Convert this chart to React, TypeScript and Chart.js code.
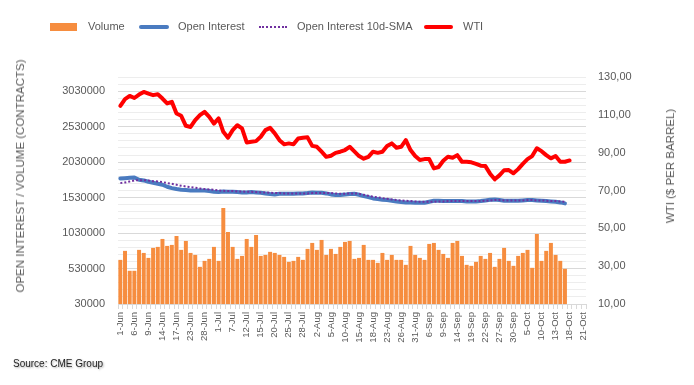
import React, { useEffect, useRef } from 'react';
import { Chart, registerables } from 'chart.js';

Chart.register(...registerables);

const FONT = "'Liberation Sans', Arial, sans-serif";
const TEXT = '#595959';

const dates = [
  '1-Jun', '2-Jun', '3-Jun', '6-Jun', '7-Jun', '8-Jun', '9-Jun', '10-Jun', '13-Jun', '14-Jun',
  '15-Jun', '16-Jun', '17-Jun', '21-Jun', '22-Jun', '23-Jun', '24-Jun', '27-Jun', '28-Jun', '29-Jun',
  '30-Jun', '1-Jul', '5-Jul', '6-Jul', '7-Jul', '8-Jul', '11-Jul', '12-Jul', '13-Jul', '14-Jul',
  '15-Jul', '18-Jul', '19-Jul', '20-Jul', '21-Jul', '22-Jul', '25-Jul', '26-Jul', '27-Jul', '28-Jul',
  '29-Jul', '1-Aug', '2-Aug', '3-Aug', '4-Aug', '5-Aug', '8-Aug', '9-Aug', '10-Aug', '11-Aug',
  '12-Aug', '15-Aug', '16-Aug', '17-Aug', '18-Aug', '19-Aug', '22-Aug', '23-Aug', '24-Aug', '25-Aug',
  '26-Aug', '29-Aug', '30-Aug', '31-Aug', '1-Sep', '2-Sep', '6-Sep', '7-Sep', '8-Sep', '9-Sep',
  '12-Sep', '13-Sep', '14-Sep', '15-Sep', '16-Sep', '19-Sep', '20-Sep', '21-Sep', '22-Sep', '23-Sep',
  '26-Sep', '27-Sep', '28-Sep', '29-Sep', '30-Sep', '3-Oct', '4-Oct', '5-Oct', '6-Oct', '7-Oct',
  '10-Oct', '11-Oct', '12-Oct', '13-Oct', '14-Oct', '17-Oct', '18-Oct', '19-Oct', '20-Oct', '21-Oct',
];

const volume = [
  652000, 779000, 498000, 498000, 793000, 750000, 680000, 821000, 835000, 947000,
  849000, 863000, 989000, 793000, 919000, 750000, 722000, 554000, 638000, 666000,
  835000, 638000, 1383000, 1045000, 835000, 666000, 708000, 947000, 835000, 1003000,
  708000, 722000, 765000, 750000, 722000, 694000, 624000, 638000, 694000, 652000,
  807000, 891000, 793000, 933000, 722000, 807000, 736000, 835000, 905000, 919000,
  666000, 680000, 863000, 652000, 652000, 610000, 750000, 652000, 722000, 652000,
  652000, 582000, 849000, 722000, 680000, 652000, 877000, 891000, 793000, 736000,
  680000, 891000, 919000, 708000, 582000, 568000, 624000, 708000, 666000, 750000,
  554000, 666000, 821000, 638000, 568000, 708000, 750000, 793000, 540000, 1017000,
  638000, 779000, 891000, 722000, 638000, 526000,
];

const openInterest = [
  1800000, 1804000, 1809000, 1814000, 1781000, 1772000, 1753000, 1739000, 1725000, 1711000,
  1683000, 1664000, 1650000, 1640000, 1636000, 1631000, 1631000, 1631000, 1631000, 1622000,
  1612000, 1608000, 1617000, 1612000, 1612000, 1608000, 1603000, 1603000, 1608000, 1603000,
  1598000, 1589000, 1580000, 1575000, 1584000, 1584000, 1584000, 1584000, 1589000, 1589000,
  1594000, 1603000, 1598000, 1598000, 1589000, 1575000, 1566000, 1566000, 1572000, 1582000,
  1584000, 1570000, 1551000, 1537000, 1518000, 1509000, 1500000, 1495000, 1486000, 1476000,
  1467000, 1462000, 1462000, 1458000, 1458000, 1458000, 1472000, 1486000, 1486000, 1481000,
  1481000, 1481000, 1481000, 1481000, 1476000, 1476000, 1476000, 1481000, 1490000, 1500000,
  1504000, 1495000, 1486000, 1486000, 1486000, 1486000, 1490000, 1495000, 1495000, 1490000,
  1486000, 1481000, 1476000, 1472000, 1462000, 1448000,
];

const openInterestSma = [
  1734000, 1743000, 1757000, 1772000, 1776000, 1776000, 1772000, 1762000, 1757000, 1748000,
  1734000, 1725000, 1711000, 1697000, 1687000, 1678000, 1669000, 1659000, 1650000, 1645000,
  1640000, 1631000, 1626000, 1622000, 1622000, 1617000, 1617000, 1612000, 1612000, 1608000,
  1603000, 1603000, 1598000, 1594000, 1594000, 1589000, 1589000, 1589000, 1589000, 1589000,
  1589000, 1594000, 1594000, 1594000, 1594000, 1594000, 1589000, 1584000, 1584000, 1589000,
  1589000, 1584000, 1570000, 1556000, 1542000, 1533000, 1523000, 1514000, 1504000, 1495000,
  1490000, 1486000, 1481000, 1476000, 1472000, 1472000, 1472000, 1472000, 1476000, 1476000,
  1481000, 1481000, 1481000, 1481000, 1481000, 1481000, 1481000, 1481000, 1486000, 1490000,
  1495000, 1495000, 1490000, 1490000, 1490000, 1490000, 1490000, 1495000, 1495000, 1490000,
  1490000, 1486000, 1481000, 1481000, 1476000, 1472000,
];

const wti = [
  114.7, 118.3, 120.0, 118.9, 120.7, 122.1, 121.2, 120.4, 120.9, 118.6,
  116.0, 116.9, 110.7, 109.5, 104.2, 103.6, 107.2, 109.8, 111.6, 108.9,
  105.4, 108.1, 101.0, 97.9, 101.9, 104.5, 102.8, 95.4, 95.8, 96.1,
  98.4, 101.9, 103.1, 100.2, 96.6, 94.4, 94.9, 94.4, 97.5, 97.9,
  98.1, 93.6, 93.1, 90.5, 87.8, 88.4, 89.9, 90.5, 91.4, 93.1,
  90.7, 88.2, 86.8, 87.8, 90.5, 89.9, 90.5, 93.5, 94.9, 92.6,
  93.1, 96.6, 91.4, 88.2, 86.1, 86.6, 86.6, 81.7, 82.4, 85.7,
  87.8, 87.3, 88.7, 85.2, 85.2, 84.9, 84.1, 83.1, 82.9, 78.9,
  75.9, 78.0, 80.7, 80.8, 79.1, 81.3, 84.1, 86.6, 88.2, 92.3,
  90.8, 88.7, 87.0, 88.2, 85.2, 85.2, 85.9,
];

const leftTickLabels = [30000, 530000, 1030000, 1530000, 2030000, 2530000, 3030000];
const rightTickLabels = [10, 30, 50, 70, 90, 110, 130];
const LEFT_MIN = 30000;
const LEFT_MAX = 3230000;
const LEFT_MINOR_STEP = 100000;

const COLORS = {
  volume: '#F68D3F',
  oi: '#4A7BC0',
  sma: '#7030A0',
  wti: '#FF0000',
};

export default function App() {
  const canvasRef = useRef<HTMLCanvasElement | null>(null);

  useEffect(() => {
    const canvas = canvasRef.current;
    if (!canvas) return;
    const chart = new Chart(canvas, {
      type: 'bar',
      data: {
        labels: dates,
        datasets: [
          {
            type: 'line',
            label: 'WTI',
            data: wti,
            yAxisID: 'y1',
            borderColor: COLORS.wti,
            backgroundColor: COLORS.wti,
            borderWidth: 4,
            pointRadius: 0,
            tension: 0,
            borderJoinStyle: 'round',
            borderCapStyle: 'round',
            order: 1,
          } as any,
          {
            type: 'line',
            label: 'Open Interest 10d-SMA',
            data: openInterestSma,
            yAxisID: 'y',
            borderColor: COLORS.sma,
            backgroundColor: COLORS.sma,
            borderWidth: 2,
            borderDash: [2, 2],
            pointRadius: 0,
            tension: 0,
            order: 2,
          } as any,
          {
            type: 'line',
            label: 'Open Interest',
            data: openInterest,
            yAxisID: 'y',
            borderColor: COLORS.oi,
            backgroundColor: COLORS.oi,
            borderWidth: 4,
            pointRadius: 0,
            tension: 0,
            borderJoinStyle: 'round',
            borderCapStyle: 'round',
            order: 3,
          } as any,
          {
            type: 'bar',
            label: 'Volume',
            data: volume,
            yAxisID: 'y',
            backgroundColor: COLORS.volume,
            barPercentage: 0.85,
            categoryPercentage: 1,
            order: 4,
          } as any,
        ],
      },
      options: {
        animation: false,
        responsive: false,
        maintainAspectRatio: false,
        layout: { padding: { top: 77, left: 0, right: 0, bottom: 0 } },
        plugins: { legend: { display: false }, tooltip: { enabled: false } },
        scales: {
          x: {
            offset: true,
            grid: {
              display: true,
              drawOnChartArea: false,
              drawTicks: true,
              tickLength: 5,
              color: '#D9D9D9',
              offset: true,
            },
            border: { display: true, color: '#D9D9D9' },
            ticks: {
              autoSkip: false,
              minRotation: 90,
              maxRotation: 90,
              padding: 3,
              color: TEXT,
              font: { family: FONT, size: 9.5 },
              callback: (_v: any, i: number) => (i % 3 === 0 ? dates[i] : ''),
            },
            afterFit: (s: any) => {
              s.height = 81;
            },
          },
          y: {
            position: 'left',
            min: LEFT_MIN,
            max: LEFT_MAX,
            afterBuildTicks: (s: any) => {
              const t: any[] = [];
              for (let v = LEFT_MIN; v <= LEFT_MAX; v += LEFT_MINOR_STEP) t.push({ value: v });
              s.ticks = t;
            },
            grid: {
              drawTicks: false,
              color: (ctx: any) =>
                ctx.tick && leftTickLabels.includes(ctx.tick.value) ? '#D9D9D9' : '#EDEDED',
            },
            border: { display: false },
            ticks: {
              autoSkip: false,
              padding: 13,
              color: TEXT,
              font: { family: FONT, size: 11 },
              callback: (v: any) => (leftTickLabels.includes(v) ? String(v) : ''),
            },
            afterFit: (s: any) => {
              s.width = 118;
            },
          },
          y1: {
            position: 'right',
            min: 10,
            max: 130,
            afterBuildTicks: (s: any) => {
              s.ticks = rightTickLabels.map((v) => ({ value: v }));
            },
            grid: { display: false, drawOnChartArea: false, drawTicks: false },
            border: { display: false },
            ticks: {
              autoSkip: false,
              padding: 12,
              color: TEXT,
              font: { family: FONT, size: 11 },
              callback: (v: any) => Number(v).toFixed(2).replace('.', ','),
            },
            afterFit: (s: any) => {
              s.width = 108;
            },
          },
        },
      } as any,
    });
    return () => chart.destroy();
  }, []);

  const textStyle: React.CSSProperties = {
    position: 'absolute',
    fontSize: 11,
    lineHeight: '14px',
    color: TEXT,
    whiteSpace: 'nowrap',
  };

  return (
    <div
      style={{
        position: 'absolute',
        left: 0,
        top: 0,
        width: 694,
        height: 385,
        background: '#fff',
        fontFamily: FONT,
        overflow: 'hidden',
      }}
    >
      <canvas
        ref={canvasRef}
        width={694}
        height={385}
        style={{ position: 'absolute', left: 0, top: 0, width: 694, height: 385 }}
      />
      {/* Legend */}
      <div style={{ position: 'absolute', left: 50, top: 23, width: 27, height: 8, background: COLORS.volume }} />
      <div style={{ ...textStyle, left: 88, top: 19 }}>Volume</div>
      <div style={{ position: 'absolute', left: 139, top: 25, width: 30, height: 4, borderRadius: 2, background: COLORS.oi }} />
      <div style={{ ...textStyle, left: 178, top: 19 }}>Open Interest</div>
      <div style={{ position: 'absolute', left: 259, top: 26, width: 28, height: 0, borderTop: `2px dotted ${COLORS.sma}` }} />
      <div style={{ ...textStyle, left: 297, top: 19 }}>Open Interest 10d-SMA</div>
      <div style={{ position: 'absolute', left: 424, top: 25, width: 29, height: 4, borderRadius: 2, background: COLORS.wti }} />
      <div style={{ ...textStyle, left: 463, top: 19 }}>WTI</div>
      {/* Axis titles */}
      <div
        style={{
          ...textStyle,
          fontSize: 11.5,
          left: 20,
          top: 176,
          transform: 'translate(-50%, -50%) rotate(-90deg)',
        }}
      >
        OPEN INTEREST / VOLUME (CONTRACTS)
      </div>
      <div
        style={{
          ...textStyle,
          fontSize: 11.5,
          left: 670,
          top: 166,
          transform: 'translate(-50%, -50%) rotate(-90deg)',
        }}
      >
        WTI ($ PER BARREL)
      </div>
      {/* Source */}
      <div
        style={{
          position: 'absolute',
          left: 13,
          top: 357,
          fontSize: 10,
          lineHeight: '14px',
          color: '#222',
          whiteSpace: 'nowrap',
          textShadow: '1px 1px 2px rgba(0,0,0,0.35)',
        }}
      >
        Source: CME Group
      </div>
    </div>
  );
}
